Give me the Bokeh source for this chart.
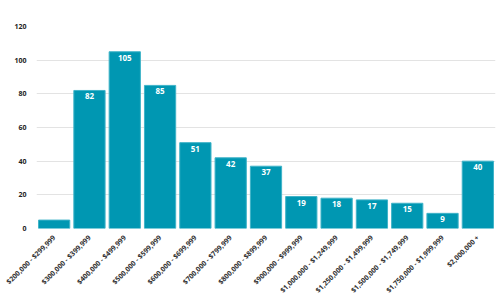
from bokeh.plotting import figure
from bokeh.models import ColumnDataSource, FactorRange, Range1d, LabelSet, SingleIntervalTicker
from bokeh.core.properties import value
from bokeh.embed import file_html
from bokeh.resources import INLINE
import math

categories = ["$200,000 - $299,999", "$300,000 - $399,999", "$400,000 - $499,999",
              "$500,000 - $599,999", "$600,000 - $699,999", "$700,000 - $799,999",
              "$800,000 - $899,999", "$900,000 - $999,999", "$1,000,000 - $1,249,999",
              "$1,250,000 - $1,499,999", "$1,500,000 - $1,749,999", "$1,750,000 - $1,999,999",
              "$2,000,000 +"]
counts = [5, 82, 105, 85, 51, 42, 37, 19, 18, 17, 15, 9, 40]
labels = ["" if c < 8 else str(c) for c in counts]

src = ColumnDataSource(dict(cat=categories, val=counts, lab=labels))

p = figure(width=500, height=300, output_backend="svg", toolbar_location=None,
           x_range=FactorRange(factors=categories, range_padding=0),
           y_range=Range1d(0, 120),
           min_border_left=36, min_border_right=5, min_border_top=26, min_border_bottom=60)
p.background_fill_color = "white"
p.border_fill_color = "white"
p.outline_line_color = None

p.vbar(x="cat", top="val", width=0.885, source=src, fill_color="#0097b2",
       line_color="#3fb3c8", line_width=1)

lab = LabelSet(x="cat", y="val", text="lab", source=src, text_align="center",
               text_baseline="top", y_offset=-3, text_color="white",
               text_font_size="8px", text_font_style="bold", text_font=value("Open Sans"))
p.add_layout(lab)

p.yaxis.ticker = SingleIntervalTicker(interval=20)
p.yaxis.axis_line_color = None
p.yaxis.major_tick_line_color = None
p.yaxis.minor_tick_line_color = None
p.yaxis.major_label_text_font = "Open Sans"
p.yaxis.major_label_text_font_size = "7px"
p.yaxis.major_label_text_font_style = "bold"
p.yaxis.major_label_text_color = "#222222"
p.yaxis.major_label_standoff = 4

p.xaxis.axis_line_color = None
p.xaxis.major_tick_line_color = None
p.xaxis.major_label_orientation = math.pi / 4
p.xaxis.major_label_text_font = "Open Sans"
p.xaxis.major_label_text_font_size = "7px"
p.xaxis.major_label_text_font_style = "bold"
p.xaxis.major_label_text_color = "#333333"
p.xaxis.major_label_standoff = 2

p.xgrid.grid_line_color = None
p.ygrid.grid_line_color = "#e3e3e3"
p.ygrid.grid_line_width = 1

open("out.html", "w").write(file_html(p, INLINE))
